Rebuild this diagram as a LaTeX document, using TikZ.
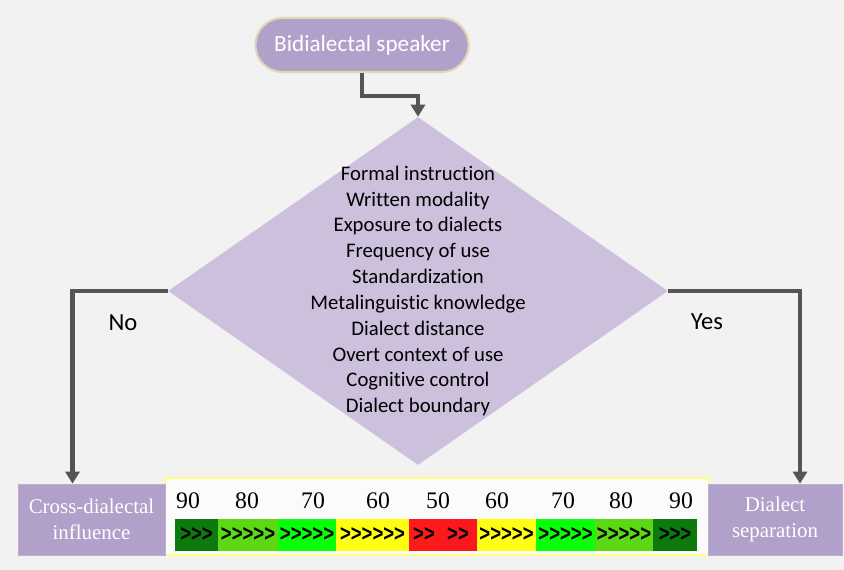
\documentclass[tikz,border=0pt]{standalone}
\usepackage{fontspec}
\setmainfont{Liberation Serif}
\newfontfamily\calibri[Ligatures=NoCommon]{Carlito}
\newfontfamily\arialf{Liberation Sans}
\usetikzlibrary{arrows.meta,calc,positioning,shapes.geometric,shapes.misc}

\definecolor{bgray}{RGB}{242,242,242}
\definecolor{lilac}{RGB}{177,160,201}
\definecolor{lilacl}{RGB}{204,192,221}
\definecolor{pilledge}{RGB}{222,214,180}
\definecolor{arrowgray}{RGB}{85,85,85}
\definecolor{scoreedge}{RGB}{255,255,130}
\definecolor{dkgreen}{RGB}{12,122,12}
\definecolor{ltgreen}{RGB}{92,217,20}
\definecolor{brgreen}{RGB}{10,255,10}
\definecolor{yel}{RGB}{255,255,20}
\definecolor{redA}{RGB}{255,26,26}
\definecolor{redB}{RGB}{250,24,30}

\begin{document}
\begin{tikzpicture}[
  x=0.02cm,y=-0.02cm,
  >={Triangle[length=2.4mm,width=2.8mm]},
  start/.style={rounded rectangle,draw=pilledge,line width=1.2pt,fill=lilac,text=white,
    font=\calibri\fontsize{13.2}{16}\selectfont,minimum width=4.5cm,minimum height=1.08cm},
  decision/.style={diamond,fill=lilacl,minimum width=10cm,minimum height=6.96cm,inner sep=0pt},
  outcome/.style={rectangle,fill=lilac,draw=lilac!85!white,text=white,align=center,
    font=\fontsize{11.9}{15}\selectfont,minimum height=1.42cm},
  link/.style={draw=arrowgray,line width=2.3pt,->},
  lbl/.style={font=\calibri\fontsize{14}{16}\selectfont},
  seg/.style={minimum height=0.64cm,inner sep=0pt,font=\arialf\bfseries\fontsize{13.2}{14}\selectfont},
  score/.style={font=\fontsize{13.5}{15}\selectfont}
  ]
  \fill[bgray] (0,0) rectangle (844,570);
  \useasboundingbox (0,0) rectangle (844,570);

  % start and decision
  \node[start] (spk) at (362,45) {Bidialectal speaker};
  \node[decision] (dia) at (418,291) {};
  \node[align=center,font=\calibri\fontsize{11.8}{14.7}\selectfont] (crit) at (dia.center)
    {Formal instruction\\Written modality\\Exposure to dialects\\Frequency of use\\
     Standardization\\Metalinguistic knowledge\\Dialect distance\\Overt context of use\\
     Cognitive control\\Dialect boundary};

  % outcomes and the scale between them
  \node[draw=scoreedge,fill=white!97!gray,line width=1pt,minimum width=10.88cm,
    minimum height=1.54cm,inner sep=0pt] (scale) at (437,516.5) {};
  \node[outcome,minimum width=2.94cm] (cdi) at (91.5,519.5) {Cross-dialectal\\influence};
  \node[outcome,minimum width=2.68cm] (sep) at (775,519.5) {Dialect\\separation};

  \foreach \x/\n [count=\i] in {188/90,247/80,313/70,378/60,438/50,497/60,563/70,621/80,681/90}
    \node[score] (n\i) at (\x,501) {\n};
  \foreach \xa/\xb/\col/\arr [count=\i] in {175/218/dkgreen/>>>,218/278/ltgreen/>>>>>,
      278/336/brgreen/>>>>>,336/409/yel/>>>>>>,409/439/redA/>>,439/477/redB/>>,
      477/536/yel/>>>>>,536/595/brgreen/>>>>>,595/653/ltgreen/>>>>>,653/697/dkgreen/>>>}
    \node[seg,fill=\col,minimum width={(\xb-\xa)*0.02cm}] (b\i) at ({(\xa+\xb)/2},534.5)
      {\raisebox{-1.5pt}{\scalebox{0.8}[1]{\arr}}};

  % connectors
  \draw[link] (spk.south) -- ++(0,23) -| (dia.north);
  \draw[link] (dia.west) -| ($(cdi.north)+(-19,0)$);
  \draw[link] (dia.east) -| ($(sep.north)+(25,0)$);
  \node[lbl] (no) at (123,323) {No};
  \node[lbl] (yes) at (707,322) {Yes};
\end{tikzpicture}
\end{document}
